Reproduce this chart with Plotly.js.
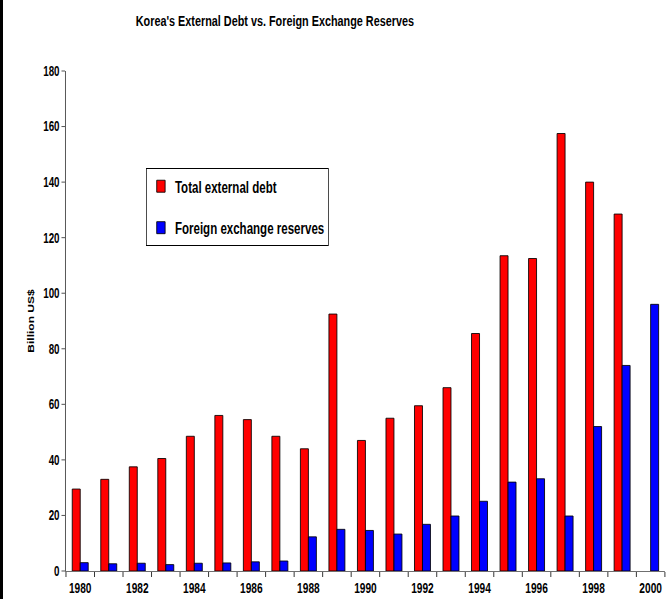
<!DOCTYPE html>
<html>
<head>
<meta charset="utf-8">
<script src="https://cdn.plot.ly/plotly-3.0.1.min.js"></script>
<style>
html,body{margin:0;padding:0;background:#fff;}
#frame{width:664px;height:599px;border-left:3px solid #000;overflow:hidden;}
#chart{width:949px;height:599px;transform:scaleX(0.69968);transform-origin:0 0;}
</style>
</head>
<body>
<div id="frame"><div id="chart"></div></div>
<script>
var years = [1980,1981,1982,1983,1984,1985,1986,1987,1988,1989,1990,1991,1992,1993,1994,1995,1996,1997,1998,1999,2000];
var totalExternalDebt = [29.5,33,37.5,40.5,48.5,56,54.5,48.5,44,92.5,47,55,59.5,66,85.5,113.5,112.5,157.5,140,128.5,null];
var fxReserves = [3,2.6,2.8,2.3,2.8,2.9,3.3,3.6,12.3,15,14.6,13.3,16.8,19.8,25.1,32,33.2,19.8,52,74,96];
var yearLabels = [1980,1982,1984,1986,1988,1990,1992,1994,1996,1998,2000];
var boundaries = years.map(function(y){return y-0.5;}).concat([years[years.length-1]+0.5]);

var font = {family:'"Liberation Sans", Arial, sans-serif', color:'#000', weight:'bold'};
function f(size){return Object.assign({}, font, {size:size});}

var traces = [
  {type:'bar', x:years, y:totalExternalDebt, name:'Total external debt', legendgroup:'a',
   marker:{color:'#ff0000', line:{color:'#000', width:1}}},
  {type:'bar', x:years, y:fxReserves, name:'Foreign exchange reserves', legendgroup:'b',
   marker:{color:'#0000ff', line:{color:'#000', width:1}}}
];

var layout = {
  width:949, height:599,
  margin:{l:90, r:3, t:71, b:28},
  paper_bgcolor:'#fff', plot_bgcolor:'#fff',
  font:f(14),
  title:{text:"Korea's External Debt vs. Foreign Exchange Reserves", font:f(15.5),
         x:0.4095, xanchor:'center', y:0.966, yanchor:'middle'},
  barmode:'group', bargap:0.44, bargroupgap:0,
  showlegend:true,
  legend:{x:0.134, y:0.806, xanchor:'left', yanchor:'top', bgcolor:'#fff',
          bordercolor:'#000', borderwidth:1, font:f(16.5), tracegroupgap:17, itemwidth:30},
  xaxis:{range:[1979.5,2000.5], tickmode:'array', tickvals:yearLabels, ticktext:yearLabels.map(String),
         ticks:'', showgrid:false, zeroline:false, showline:true, linecolor:'#555', linewidth:1,
         tickfont:f(14.5), ticklabelstandoff:4,
         minor:{tickmode:'array', tickvals:boundaries, ticks:'outside', ticklen:5, tickwidth:1.4, tickcolor:'#333', showgrid:false}},
  yaxis:{range:[0,180], dtick:20, tick0:0, ticks:'outside', ticklen:5, tickcolor:'#333',
         showgrid:false, zeroline:false, showline:true, linecolor:'#555', linewidth:1.4,
         tickfont:f(14),
         title:{text:'Billion US$', font:f(12), standoff:10}}
};

Plotly.newPlot('chart', traces, layout, {displayModeBar:false, staticPlot:true});
</script>
</body>
</html>
